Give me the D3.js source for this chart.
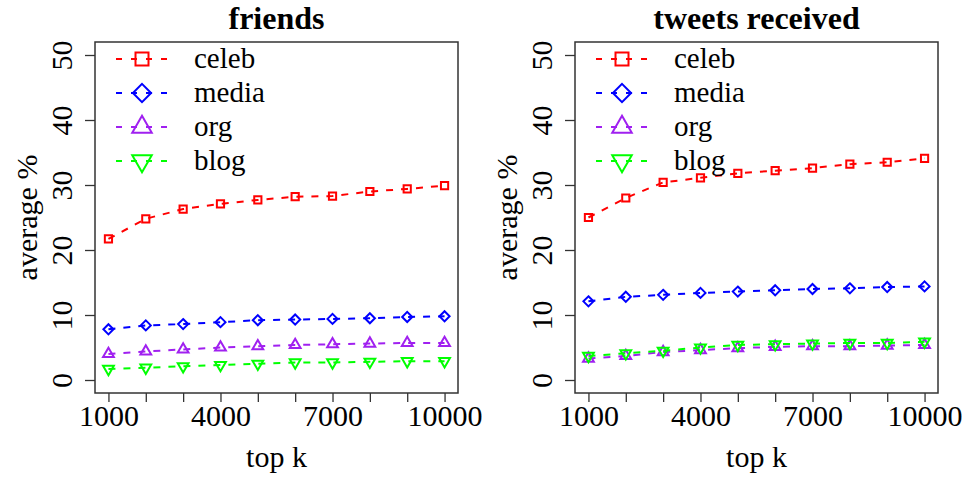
<!DOCTYPE html>
<html>
<head>
<meta charset="utf-8">
<script src="https://cdn.jsdelivr.net/npm/d3@7"></script>
<style>
  html, body, svg, text, tspan { font-family: "Liberation Serif" !important; }
</style>
</head>
<body style="margin:0">
<script>
const topK = [1000, 2000, 3000, 4000, 5000, 6000, 7000, 8000, 9000, 10000];
const xTickLabels = [1000, 4000, 7000, 10000];
const yTicks = [0, 10, 20, 30, 40, 50];
const categories = ["celeb", "media", "org", "blog"];
const colors = ["#ff0000", "#0000ff", "#a020f0", "#00ff00"];
const shapes = ["square", "diamond", "triangleUp", "triangleDown"];

// friends panel
const friendsCeleb = [21.7, 24.8, 26.3, 27.1, 27.7, 28.2, 28.3, 29.0, 29.4, 29.9];
const friendsMedia = [7.8, 8.4, 8.6, 8.9, 9.2, 9.3, 9.4, 9.5, 9.7, 9.8];
const friendsOrg = [4.0, 4.4, 4.7, 5.0, 5.2, 5.4, 5.5, 5.6, 5.7, 5.7];
const friendsBlog = [1.7, 1.9, 2.1, 2.3, 2.5, 2.7, 2.7, 2.8, 2.9, 2.9];

// tweets received panel
const tweetsCeleb = [25.0, 28.0, 30.4, 31.1, 31.8, 32.2, 32.6, 33.2, 33.5, 34.1];
const tweetsMedia = [12.1, 12.8, 13.1, 13.4, 13.6, 13.8, 14.0, 14.1, 14.3, 14.4];
const tweetsOrg = [3.3, 3.7, 4.3, 4.6, 4.9, 5.1, 5.2, 5.2, 5.3, 5.4];
const tweetsBlog = [3.7, 4.1, 4.5, 5.0, 5.4, 5.5, 5.6, 5.7, 5.7, 5.9];

const panels = [
  { title: "friends", left: 95, series: [friendsCeleb, friendsMedia, friendsOrg, friendsBlog] },
  { title: "tweets received", left: 575, series: [tweetsCeleb, tweetsMedia, tweetsOrg, tweetsBlog] }
];

const width = 971, height = 477;
const plotWidth = 363;
const plotTop = 42, plotBottom = 393;

const svg = d3
  .select("body")
  .append("svg")
  .attr("width", width)
  .attr("height", height);

// open marker shapes centred on 0,0 (s = half size)
const marker = (shape, s) => {
  if (shape === "square") return `M${-s},${-s}h${2 * s}v${2 * s}h${-2 * s}Z`;
  if (shape === "diamond") {
    const d = s * 1.4;
    return `M0,${-d}L${d},0L0,${d}L${-d},0Z`;
  }
  const w = s * 1.5, h = w * Math.sqrt(3);
  if (shape === "triangleUp") return `M0,${-2 * h / 3}L${w},${h / 3}L${-w},${h / 3}Z`;
  return `M0,${2 * h / 3}L${w},${-h / 3}L${-w},${-h / 3}Z`;
};

const addText = (sel, size) =>
  sel.append("text")
    .style("font-size", size + "px")
    .attr("fill", "#000");

const drawPanel = (p) => {
  const graph = svg.append("g").attr("transform", `translate(${p.left},0)`);

  //scales, R style 4% padding
  const pad = (topK[topK.length - 1] - topK[0]) * 0.04;
  const x = d3.scaleLinear()
    .domain([topK[0] - pad, topK[topK.length - 1] + pad])
    .range([0, plotWidth]);
  const y = d3.scaleLinear().domain([-2, 52]).range([plotBottom, plotTop]);

  //axes: ticks only, the box is drawn separately
  const xAxisGroup = graph.append("g").attr("transform", `translate(0,${plotBottom})`);
  xAxisGroup.call(
    d3.axisBottom(x)
      .tickValues(topK)
      .tickSize(9)
      .tickFormat((d) => (xTickLabels.includes(d) ? d : ""))
  );
  xAxisGroup.attr("font-family", null).attr("font-size", null);
  xAxisGroup.select(".domain").remove();
  xAxisGroup.selectAll("line").attr("stroke", "#333").attr("stroke-width", 1.3);
  xAxisGroup.selectAll("text")
    .attr("y", 33).attr("dy", null)
    .style("font-size", "30px");

  const yAxisGroup = graph.append("g");
  yAxisGroup.call(d3.axisLeft(y).tickValues(yTicks).tickSize(10));
  yAxisGroup.attr("font-family", null).attr("font-size", null);
  yAxisGroup.select(".domain").remove();
  yAxisGroup.selectAll("line").attr("stroke", "#333").attr("stroke-width", 1.3);
  yAxisGroup.selectAll("text")
    .attr("x", null).attr("dy", null)
    .attr("text-anchor", "middle")
    .attr("transform", "translate(-23,0) rotate(-90)")
    .style("font-size", "30px");

  //box
  graph.append("rect")
    .attr("x", 0).attr("y", plotTop)
    .attr("width", plotWidth).attr("height", plotBottom - plotTop)
    .attr("fill", "none").attr("stroke", "#333").attr("stroke-width", 1.5);

  //titles
  addText(graph, 32)
    .attr("x", plotWidth / 2).attr("y", 29)
    .attr("text-anchor", "middle")
    .style("font-weight", "bold")
    .text(p.title);
  addText(graph, 30)
    .attr("x", plotWidth / 2).attr("y", 467)
    .attr("text-anchor", "middle")
    .text("top k");
  addText(graph, 30)
    .attr("transform", `translate(-58,${(plotTop + plotBottom) / 2}) rotate(-90)`)
    .attr("text-anchor", "middle")
    .text("average %");

  //lines and points
  const line = d3.line()
    .x((d, i) => x(topK[i]))
    .y((d) => y(d));

  p.series.forEach((values, k) => {
    graph.append("path")
      .datum(values)
      .attr("fill", "none")
      .attr("stroke", colors[k])
      .attr("stroke-width", 2)
      .attr("stroke-dasharray", "7,8")
      .attr("d", line);

    graph.selectAll(`.pt-${k}`)
      .data(values)
      .enter()
      .append("path")
      .attr("class", `pt-${k}`)
      .attr("transform", (d, i) => `translate(${x(topK[i])},${y(d)})`)
      .attr("d", marker(shapes[k], 3.6))
      .attr("fill", "none")
      .attr("stroke", colors[k])
      .attr("stroke-width", 2);
  });

  //legend
  const legend = graph.append("g");
  categories.forEach((c, k) => {
    const ly = 59 + k * 34;
    legend.append("line")
      .attr("x1", 21).attr("x2", 73)
      .attr("y1", ly).attr("y2", ly)
      .attr("stroke", colors[k])
      .attr("stroke-width", 2)
      .attr("stroke-dasharray", "6,9");
    legend.append("path")
      .attr("transform", `translate(47,${ly})`)
      .attr("d", marker(shapes[k], 6.5))
      .attr("fill", "none")
      .attr("stroke", colors[k])
      .attr("stroke-width", 2);
    addText(legend, 29)
      .attr("x", 99).attr("y", ly + 9)
      .text(c);
  });
};

panels.forEach(drawPanel);
</script>
</body>
</html>
